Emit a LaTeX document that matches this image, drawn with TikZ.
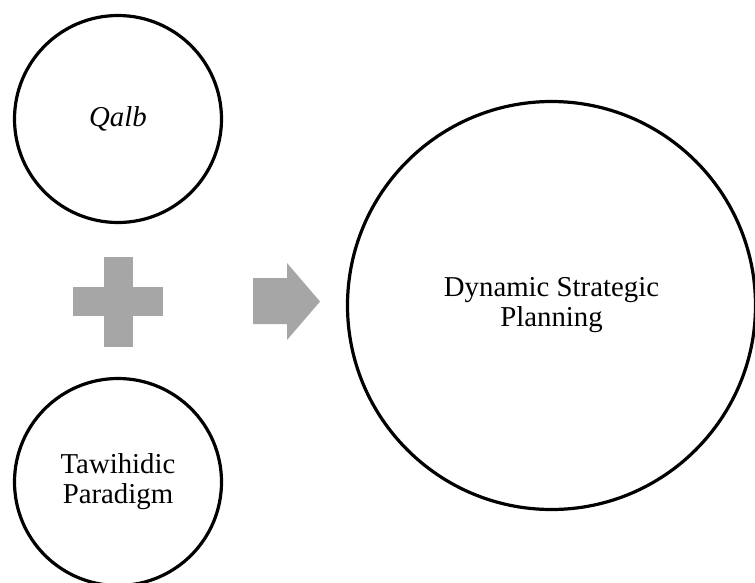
\documentclass[tikz,border=0pt]{standalone}
\usepackage{fontspec}
\setmainfont{Liberation Serif}
\definecolor{signgray}{HTML}{A6A6A6}
\begin{document}
\begin{tikzpicture}[x=1pt,y=-1pt,
  ring/.style={circle,draw,line width=3.2pt,align=center,inner sep=0pt,
    font=\fontsize{28.8}{30}\selectfont}]
\useasboundingbox (0,0) rectangle (755,582);
\clip (0,0) rectangle (755,582);
\node[ring,minimum size=207pt] (qalb) at (118,119) {\textit{Qalb}};
\node[ring,minimum size=207pt] (tawhid) at (118,482) {Tawihidic\\Paradigm};
\node[ring,minimum size=408pt] (dsp) at (551.5,305.5) {Dynamic Strategic\\Planning};
\fill[signgray] (104,257) rectangle (133,347);
\fill[signgray] (73,287) rectangle (163,316);
\fill[signgray] (253,278) -- (287,278) -- (287,263) -- (320,301.5)
  -- (287,340) -- (287,324) -- (253,324) -- cycle;
\end{tikzpicture}
\end{document}
